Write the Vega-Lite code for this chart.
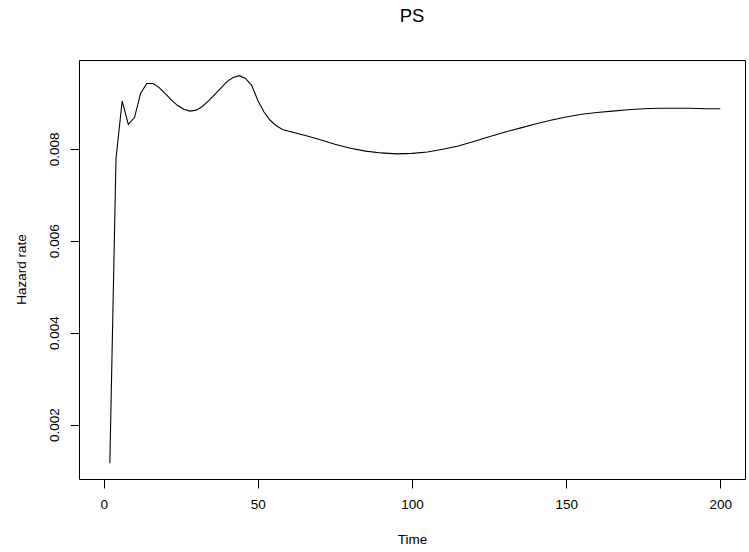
{
  "$schema": "https://vega.github.io/schema/vega-lite/v6.json",
  "autosize": "none",
  "width": 666,
  "height": 419,
  "padding": {"left": 79, "top": 60, "right": 4, "bottom": 73},
  "background": "white",
  "config": {
    "font": "Liberation Sans",
    "view": {"stroke": "black", "strokeWidth": 1}
  },
  "title": {
    "text": "PS",
    "font": "Liberation Sans",
    "fontSize": 18.5,
    "fontWeight": "normal",
    "color": "black",
    "anchor": "middle",
    "baseline": "alphabetic",
    "offset": 20
  },
  "data": {
    "values": [
      {"time": 2, "hazard": 0.00116},
      {"time": 4, "hazard": 0.00779},
      {"time": 6, "hazard": 0.00904},
      {"time": 8, "hazard": 0.00853},
      {"time": 10, "hazard": 0.00868},
      {"time": 12, "hazard": 0.00921},
      {"time": 14, "hazard": 0.00942},
      {"time": 16, "hazard": 0.00942},
      {"time": 18, "hazard": 0.00933},
      {"time": 20, "hazard": 0.0092},
      {"time": 22, "hazard": 0.00906},
      {"time": 24, "hazard": 0.00894},
      {"time": 26, "hazard": 0.00886},
      {"time": 28, "hazard": 0.00882},
      {"time": 30, "hazard": 0.00884},
      {"time": 32, "hazard": 0.00892},
      {"time": 34, "hazard": 0.00904},
      {"time": 36, "hazard": 0.00918},
      {"time": 38, "hazard": 0.00932},
      {"time": 40, "hazard": 0.00946},
      {"time": 42, "hazard": 0.00955},
      {"time": 44, "hazard": 0.00959},
      {"time": 46, "hazard": 0.00953},
      {"time": 48, "hazard": 0.00938},
      {"time": 50, "hazard": 0.00905},
      {"time": 52, "hazard": 0.0088},
      {"time": 54, "hazard": 0.00862},
      {"time": 56, "hazard": 0.0085},
      {"time": 58, "hazard": 0.00842},
      {"time": 60, "hazard": 0.00838},
      {"time": 62, "hazard": 0.00835},
      {"time": 66, "hazard": 0.00828},
      {"time": 70, "hazard": 0.0082},
      {"time": 75, "hazard": 0.0081},
      {"time": 80, "hazard": 0.00801},
      {"time": 85, "hazard": 0.00795},
      {"time": 90, "hazard": 0.00791},
      {"time": 95, "hazard": 0.00789},
      {"time": 100, "hazard": 0.0079},
      {"time": 105, "hazard": 0.00793},
      {"time": 110, "hazard": 0.00799},
      {"time": 115, "hazard": 0.00806},
      {"time": 120, "hazard": 0.00816},
      {"time": 125, "hazard": 0.00826},
      {"time": 130, "hazard": 0.00836},
      {"time": 135, "hazard": 0.00845},
      {"time": 140, "hazard": 0.00854},
      {"time": 145, "hazard": 0.00862},
      {"time": 150, "hazard": 0.00869},
      {"time": 155, "hazard": 0.00875},
      {"time": 160, "hazard": 0.00879},
      {"time": 165, "hazard": 0.00882},
      {"time": 170, "hazard": 0.00885},
      {"time": 175, "hazard": 0.00887},
      {"time": 180, "hazard": 0.00888},
      {"time": 185, "hazard": 0.00888},
      {"time": 190, "hazard": 0.00888},
      {"time": 195, "hazard": 0.00887},
      {"time": 200, "hazard": 0.00887}
    ]
  },
  "mark": {"type": "line", "color": "black", "strokeWidth": 1.1, "clip": true},
  "encoding": {
    "x": {
      "field": "time",
      "type": "quantitative",
      "scale": {"domain": [-8, 208], "nice": false, "zero": false},
      "axis": {
        "title": "Time",
        "values": [0, 50, 100, 150, 200],
        "grid": false,
        "domain": false,
        "tickSize": 9,
        "tickColor": "black",
        "labelFont": "Liberation Sans",
        "labelFontSize": 13.5,
        "labelColor": "black",
        "labelPadding": 9,
        "labelBaseline": "top",
        "labelFlush": false,
        "titleFont": "Liberation Sans",
        "titleFontSize": 13.5,
        "titleFontWeight": "normal",
        "titleColor": "black",
        "titleBaseline": "alphabetic",
        "titleY": 64
      }
    },
    "y": {
      "field": "hazard",
      "type": "quantitative",
      "scale": {"domain": [0.000818, 0.009931], "nice": false, "zero": false},
      "axis": {
        "title": "Hazard rate",
        "values": [0.002, 0.004, 0.006, 0.008],
        "format": ".3f",
        "grid": false,
        "domain": false,
        "tickSize": 9,
        "tickColor": "black",
        "labelFont": "Liberation Sans",
        "labelFontSize": 13.5,
        "labelColor": "black",
        "labelAngle": -90,
        "labelAlign": "center",
        "labelBaseline": "alphabetic",
        "labelPadding": 12,
        "labelFlush": false,
        "titleFont": "Liberation Sans",
        "titleFontSize": 13.5,
        "titleFontWeight": "normal",
        "titleColor": "black",
        "titleAngle": -90,
        "titleBaseline": "alphabetic",
        "titleX": -54,
        "titleY": 209
      }
    }
  }
}
